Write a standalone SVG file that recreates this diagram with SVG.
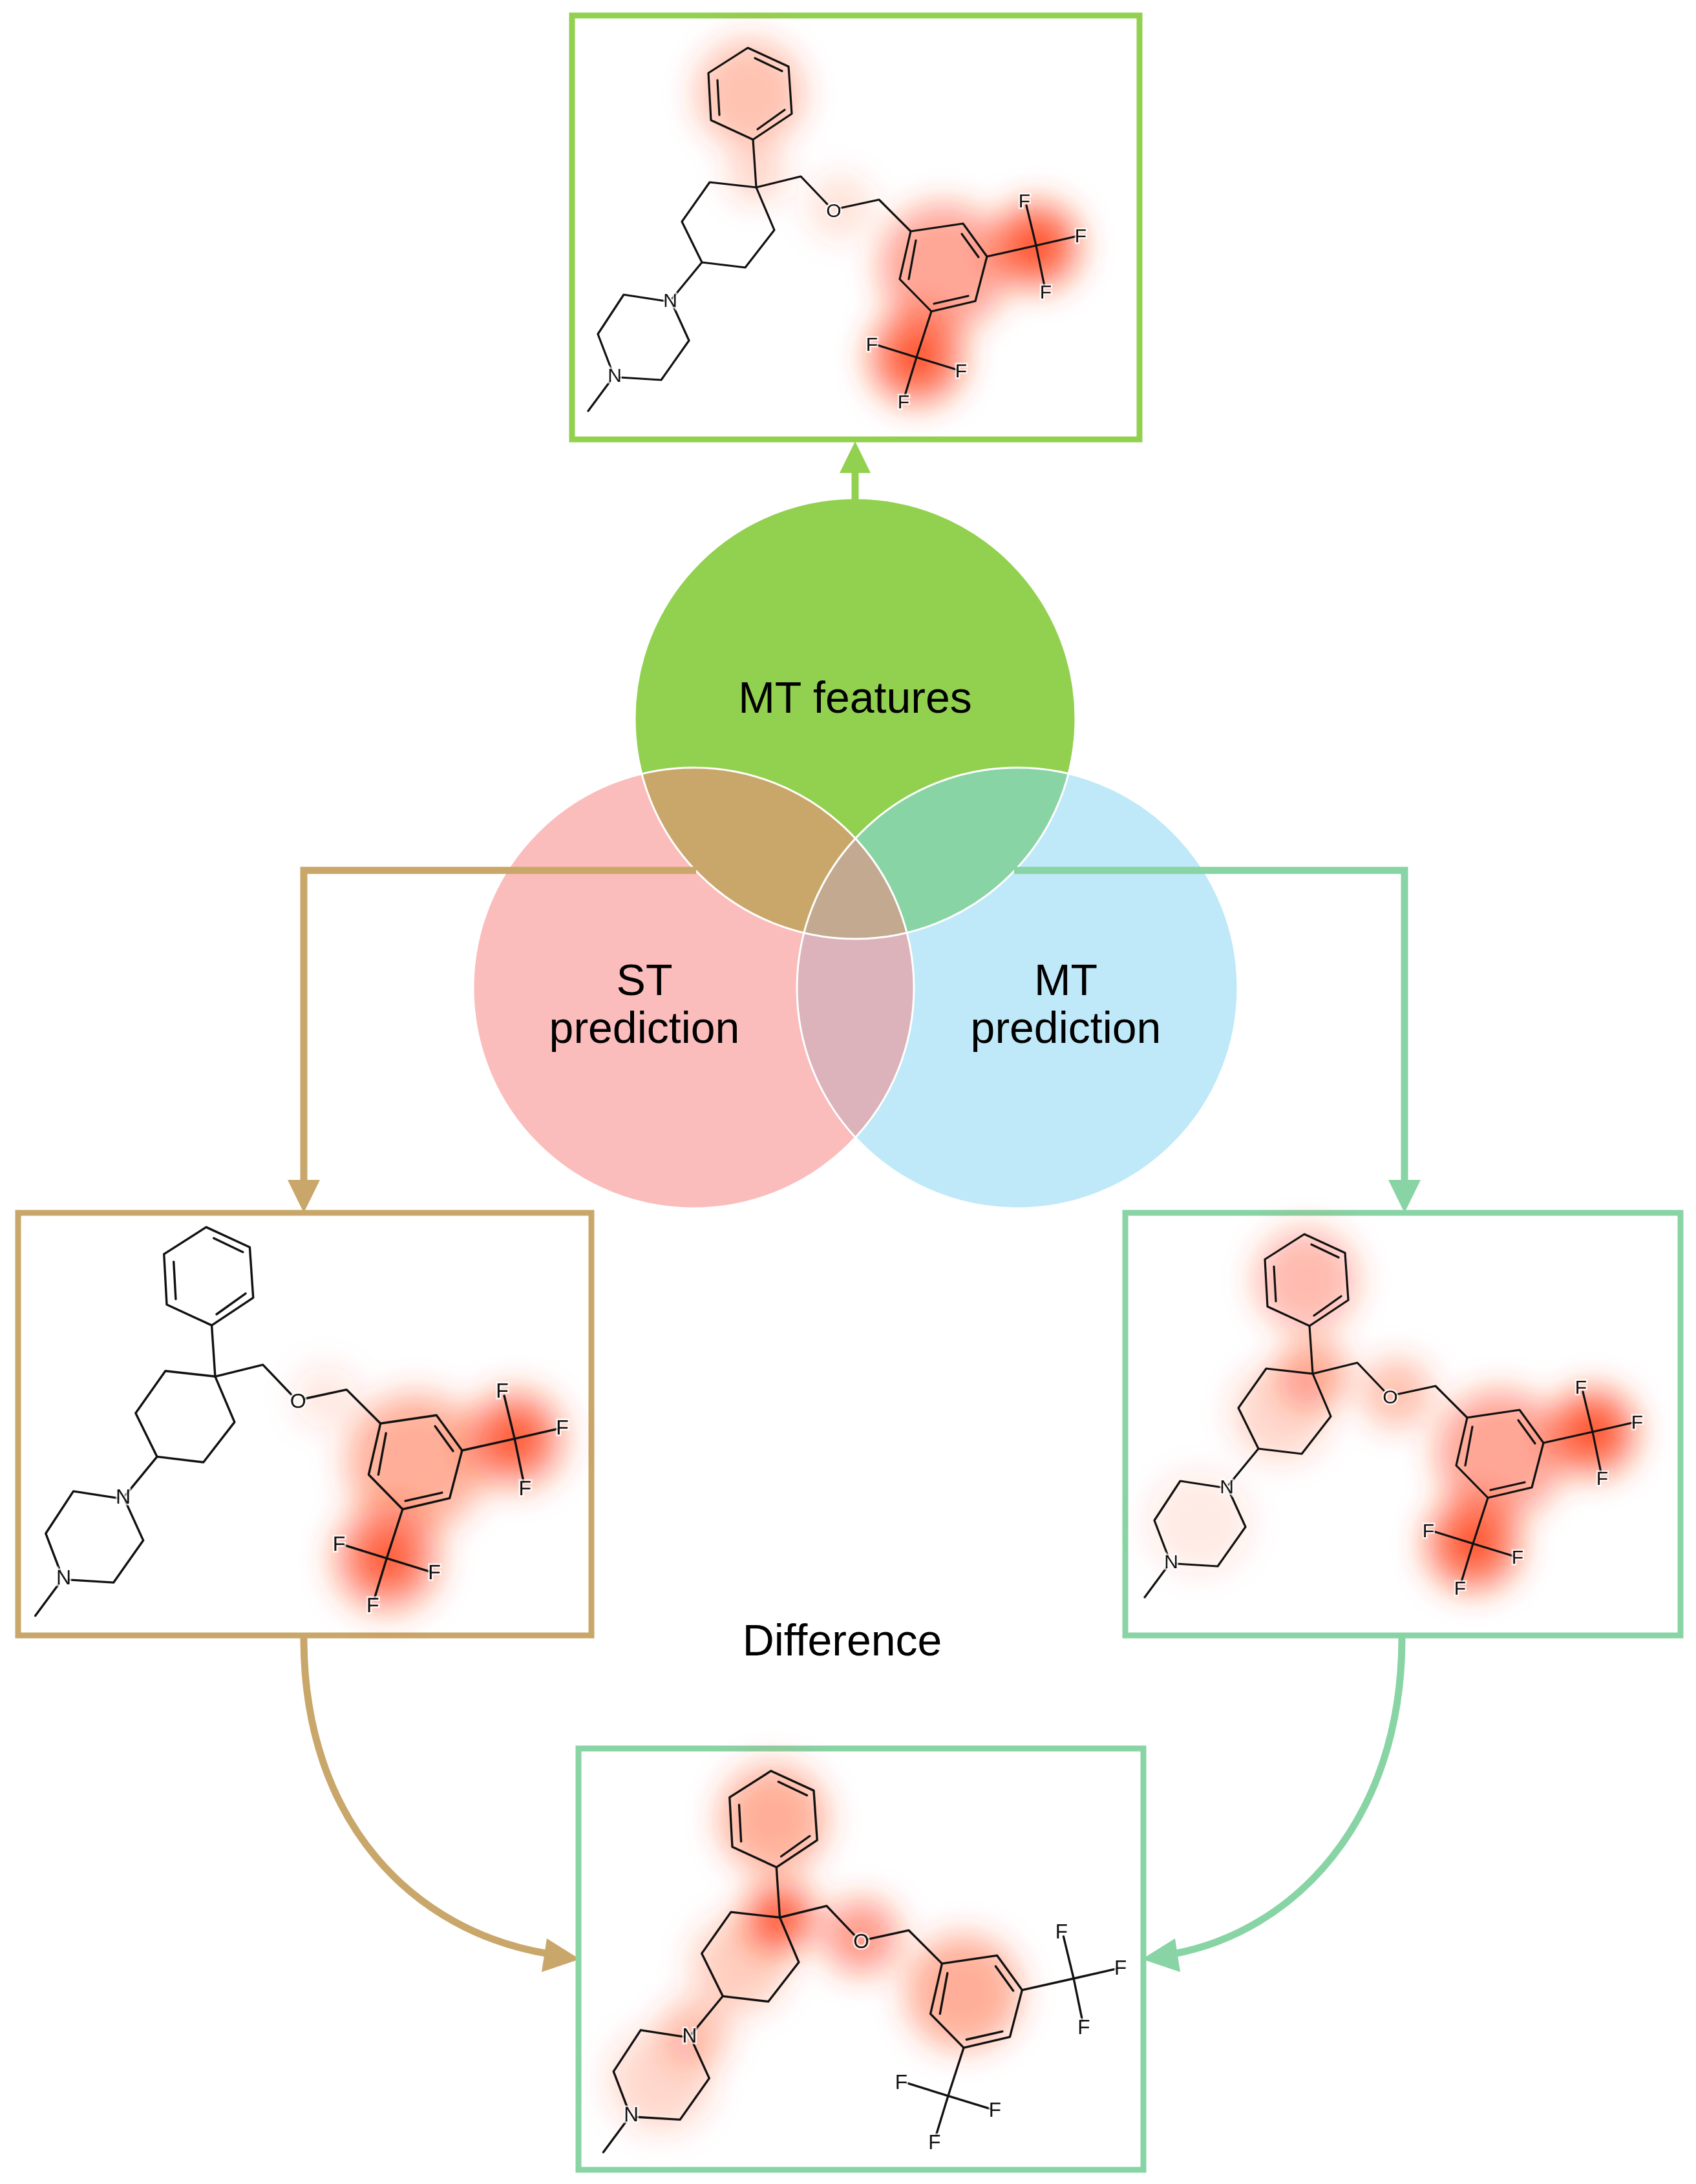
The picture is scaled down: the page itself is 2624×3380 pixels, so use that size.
<svg xmlns="http://www.w3.org/2000/svg" width="2624" height="3380" viewBox="0 0 2624 3380">
<style>
.b{fill:none;stroke:#111;stroke-width:3.2;stroke-linecap:round;stroke-linejoin:round}
.a{font-family:"Liberation Sans",Arial,sans-serif;font-size:30px;fill:#111;text-anchor:middle;dominant-baseline:central;stroke:#fff;stroke-width:5;stroke-opacity:0.7;paint-order:stroke}
.lbl{font-family:"Liberation Sans",Arial,sans-serif;font-size:68px;fill:#000;text-anchor:middle}
.box{fill:#fff;stroke-width:9}
.h{fill:#ff3a10}
</style>
<defs>
<filter id="blur" x="-50%" y="-50%" width="200%" height="200%"><feGaussianBlur stdDeviation="24"/></filter>
<clipPath id="cG"><circle cx="1323" cy="1112" r="341"/></clipPath>
<clipPath id="cP"><circle cx="1073" cy="1529" r="341"/></clipPath>
<g id="mol">
<path class="b" d="M1157,74 L1220,103 L1225,176 L1165,216 L1100,186 L1096,113 Z M1168,90 L1210,110 M1214,170 L1172,200 M1110,124 L1113,178"/>
<path class="b" d="M1165,216 L1170,290"/>
<path class="b" d="M1170,290 L1098,282 L1055,343 L1086,406 L1153,414 L1198,356 Z"/>
<path class="b" d="M1170,290 L1239,273 L1280,316 M1300,322 L1360,309 L1409,358"/>
<path class="b" d="M1409,358 L1490,346 L1527,397 L1509,466 L1441,482 L1392,432 Z M1488,362 L1514,398 M1498,458 L1445,470 M1406,432 L1417,372"/>
<path class="b" d="M1527,397 L1603,380 M1588,318 L1603,380 L1664,366 M1603,380 L1616,443"/>
<path class="b" d="M1441,482 L1418,553 M1357,534 L1418,553 L1480,572 M1418,553 L1400,612"/>
<path class="b" d="M1086,406 L1040,462 M1030,466 L965,456 L925,517 L946,572 M958,584 L1023,588 L1066,527 L1040,470 M944,590 L910,636"/>
<text class="a" x="1290" y="325">O</text>
<text class="a" x="1037" y="464">N</text>
<text class="a" x="951" y="580">N</text>
<text class="a" x="1585" y="310">F</text>
<text class="a" x="1672" y="364">F</text>
<text class="a" x="1618" y="451">F</text>
<text class="a" x="1349" y="532">F</text>
<text class="a" x="1487" y="573">F</text>
<text class="a" x="1398" y="621">F</text>
</g>
</defs>

<g id="venn">
<circle cx="1323" cy="1112" r="341" fill="#92D050"/>
<circle cx="1073" cy="1529" r="341" fill="#FBBCBC"/>
<circle cx="1574" cy="1529" r="341" fill="#BFE9F8"/>
<g clip-path="url(#cG)"><circle cx="1073" cy="1529" r="341" fill="#C9A76A"/><circle cx="1574" cy="1529" r="341" fill="#88D4A4"/></g>
<g clip-path="url(#cP)"><circle cx="1574" cy="1529" r="341" fill="#DCB3BA"/><g clip-path="url(#cG)"><circle cx="1574" cy="1529" r="341" fill="#C3A990"/></g></g>
<g fill="none" stroke="#fff" stroke-width="3">
<circle cx="1323" cy="1112" r="341"/><circle cx="1073" cy="1529" r="341"/><circle cx="1574" cy="1529" r="341"/>
</g>
<text class="lbl" x="1323" y="1103">MT features</text>
<text class="lbl" x="997" y="1540">ST</text>
<text class="lbl" x="997" y="1614">prediction</text>
<text class="lbl" x="1649" y="1540">MT</text>
<text class="lbl" x="1649" y="1614">prediction</text>
</g>

<g id="connectors" fill="none" stroke-width="11">
<path d="M1323,775 V726" stroke="#92D050"/>
<polygon points="1323,683 1299,732 1347,732" fill="#92D050" stroke="none"/>
<path d="M1077,1347 H470 V1830" stroke="#C9A76A"/>
<polygon points="470,1877 445,1826 495,1826" fill="#C9A76A" stroke="none"/>
<path d="M1569,1347 H2173 V1830" stroke="#88D4A4"/>
<polygon points="2173,1877 2148,1826 2198,1826" fill="#88D4A4" stroke="none"/>
<path d="M470,2535 C470,2820 640,2990 850,3024" stroke="#C9A76A"/>
<polygon points="897,3032 846,3000 838,3052" fill="#C9A76A" stroke="none"/>
<path d="M2169,2535 C2169,2820 2000,2990 1815,3024" stroke="#88D4A4"/>
<polygon points="1767,3032 1818,3000 1826,3052" fill="#88D4A4" stroke="none"/>
</g>

<g id="box-top">
<rect class="box" x="885" y="24" width="878" height="656" stroke="#92D050"/>
<g filter="url(#blur)">
<circle class="h" cx="1160" cy="145" r="85" opacity="0.3"/>
<circle class="h" cx="1170" cy="270" r="45" opacity="0.2"/>
<circle class="h" cx="1300" cy="320" r="50" opacity="0.15"/>
<circle class="h" cx="1460" cy="414" r="100" opacity="0.45"/>
<circle class="h" cx="1603" cy="380" r="70" opacity="0.6"/>
<circle class="h" cx="1418" cy="553" r="75" opacity="0.6"/>
<circle class="h" cx="1603" cy="380" r="30" opacity="0.9"/>
<circle class="h" cx="1418" cy="553" r="30" opacity="0.9"/>
</g>
<use href="#mol"/>
</g>

<g id="box-left">
<rect class="box" x="28" y="1877" width="887" height="654" stroke="#C9A76A"/>
<g transform="translate(-919,1820) scale(1.07)">
<g filter="url(#blur)">
<circle class="h" cx="1330" cy="320" r="45" opacity="0.12"/>
<circle class="h" cx="1460" cy="414" r="100" opacity="0.4"/>
<circle class="h" cx="1603" cy="380" r="70" opacity="0.55"/>
<circle class="h" cx="1418" cy="553" r="75" opacity="0.55"/>
<circle class="h" cx="1603" cy="380" r="30" opacity="0.9"/>
<circle class="h" cx="1418" cy="553" r="30" opacity="0.9"/>
</g>
<use href="#mol"/>
</g>
</g>

<g id="box-right">
<rect class="box" x="1741" y="1877" width="859" height="654" stroke="#88D4A4"/>
<g transform="translate(861,1836)">
<g filter="url(#blur)">
<circle class="h" cx="1160" cy="145" r="80" opacity="0.35"/>
<circle class="h" cx="1170" cy="290" r="55" opacity="0.4"/>
<circle class="h" cx="1120" cy="350" r="75" opacity="0.2"/>
<circle class="h" cx="1300" cy="320" r="55" opacity="0.3"/>
<circle class="h" cx="1460" cy="414" r="100" opacity="0.45"/>
<circle class="h" cx="1603" cy="380" r="70" opacity="0.6"/>
<circle class="h" cx="1418" cy="553" r="75" opacity="0.6"/>
<circle class="h" cx="1603" cy="380" r="30" opacity="0.9"/>
<circle class="h" cx="1418" cy="553" r="30" opacity="0.9"/>
<circle class="h" cx="995" cy="520" r="80" opacity="0.1"/>
</g>
<use href="#mol"/>
</g>
</g>

<text class="lbl" x="1303" y="2562">Difference</text>

<g id="box-bottom">
<rect class="box" x="895" y="2706" width="874" height="652" stroke="#88D4A4"/>
<g transform="translate(-22,2663) scale(1.05)">
<g filter="url(#blur)">
<circle class="h" cx="1160" cy="145" r="80" opacity="0.4"/>
<circle class="h" cx="1170" cy="290" r="55" opacity="0.55"/>
<circle class="h" cx="1170" cy="290" r="25" opacity="0.9"/>
<circle class="h" cx="1110" cy="360" r="70" opacity="0.25"/>
<circle class="h" cx="1290" cy="318" r="55" opacity="0.5"/>
<circle class="h" cx="1440" cy="400" r="85" opacity="0.4"/>
<circle class="h" cx="1045" cy="460" r="50" opacity="0.3"/>
<circle class="h" cx="995" cy="530" r="75" opacity="0.2"/>
</g>
<use href="#mol"/>
</g>
</g>
</svg>
